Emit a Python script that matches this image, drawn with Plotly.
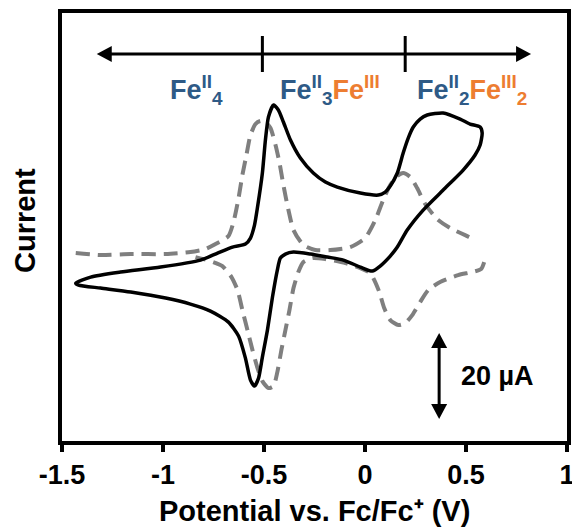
import plotly.graph_objects as go

# ---- data (potential in V vs Fc/Fc+, current in µA) ----
solid_potential = [-1.432, -1.358, -1.210, -1.012, -0.814, -0.730, -0.656, -0.592, -0.567, -0.547,
                   -0.532, -0.508, -0.493, -0.478, -0.453, -0.429, -0.404, -0.369, -0.320, -0.256,
                   -0.196, -0.137, -0.023, 0.066, 0.100, 0.125, 0.160, 0.189, 0.214, 0.239,
                   0.273, 0.308, 0.387, 0.471, 0.520, 0.570, 0.580, 0.570, 0.545, 0.486,
                   0.387, 0.288, 0.209, 0.160, 0.125, 0.075, 0.036, -0.023, -0.107, -0.186,
                   -0.270, -0.354, -0.394, -0.419, -0.434, -0.458, -0.483, -0.508, -0.527, -0.547,
                   -0.567, -0.592, -0.626, -0.676, -0.765, -0.864, -0.987, -1.160, -1.309, -1.418,
                   -1.432]
solid_current = [-4.19, -2.79, -1.63, -0.47, 1.16, 2.79, 4.19, 4.88, 6.28, 9.30,
                 13.49, 21.40, 29.07, 34.42, 37.21, 36.05, 33.26, 29.07, 24.88, 21.40,
                 19.30, 18.14, 16.74, 16.28, 16.98, 18.37, 21.40, 26.05, 29.53, 32.09,
                 33.95, 34.88, 35.35, 33.95, 32.79, 32.09, 30.70, 27.91, 25.58, 22.09,
                 17.44, 12.79, 8.14, 4.19, 2.09, -0.23, -1.40, -0.47, 1.16, 1.86,
                 2.56, 3.02, 2.56, 1.63, -1.16, -7.44, -15.12, -21.40, -26.28, -28.14,
                 -26.74, -21.63, -16.51, -13.26, -10.70, -9.07, -7.67, -6.28, -5.35, -4.65,
                 -4.19]

dashed_fwd_potential = [-1.432, -1.309, -1.160, -0.987, -0.864, -0.790, -0.740, -0.676, -0.651, -0.626,
                        -0.607, -0.587, -0.567, -0.542, -0.518, -0.493, -0.468, -0.443, -0.424, -0.404,
                        -0.379, -0.354, -0.305, -0.246, -0.172, -0.073, 0.001, 0.051, 0.090, 0.125,
                        0.160, 0.189, 0.224, 0.258, 0.298, 0.357, 0.422, 0.506, 0.551]
dashed_fwd_current = [2.79, 2.33, 2.56, 2.56, 3.02, 3.72, 4.88, 6.74, 10.00, 15.58,
                      20.93, 25.58, 30.23, 32.79, 33.49, 33.26, 31.86, 27.91, 23.95, 18.60,
                      12.79, 8.14, 4.65, 3.49, 3.49, 4.19, 6.28, 10.47, 15.12, 18.60,
                      20.70, 21.40, 20.47, 17.91, 14.19, 10.70, 8.60, 6.74, 5.81]

dashed_rev_potential = [0.590, 0.575, 0.531, 0.461, 0.372, 0.313, 0.273, 0.234, 0.199, 0.165,
                        0.125, 0.095, 0.071, 0.046, 0.026, -0.023, -0.097, -0.196, -0.260, -0.305,
                        -0.330, -0.354, -0.374, -0.394, -0.414, -0.434, -0.453, -0.478, -0.508, -0.532,
                        -0.557, -0.582, -0.607, -0.631, -0.661, -0.706, -0.765, -0.839]
dashed_rev_current = [0.70, -0.93, -1.63, -2.33, -3.95, -5.81, -8.60, -11.63, -13.49, -13.95,
                      -12.79, -10.00, -6.28, -3.49, -1.86, -0.70, 0.47, 1.40, 1.63, 0.70,
                      -1.63, -5.35, -10.47, -15.12, -19.77, -24.88, -28.14, -28.60, -26.98, -23.95,
                      -19.77, -15.12, -10.47, -5.81, -2.79, -0.23, 0.93, 1.86]

x_tick_values = [-1.5, -1, -0.5, 0, 0.5, 1]
x_tick_labels = ["-1.5", "-1", "-0.5", "0", "0.5", "1"]

region_boundaries = [-0.508, 0.199]   # vertical marks on the top arrow (V)
scale_bar_uA = 20

# ---- layout constants ----
W, H = 572, 527
ML, MR, MT, MB = 62, 5, 13, 86
X_RANGE = [-1.5, 1.0]
Y_RANGE = [-40.9, 58.6]
px_x = (X_RANGE[1] - X_RANGE[0]) / (W - ML - MR)
px_y = (Y_RANGE[1] - Y_RANGE[0]) / (H - MT - MB)

FONT = "Liberation Sans, Arial, sans-serif"
BLUE = "#2E5A86"
ORANGE = "#ED7D31"
GRAY = "#7F7F7F"

fig = go.Figure()
fig.add_trace(go.Scatter(x=dashed_fwd_potential + [None] + dashed_rev_potential,
                         y=dashed_fwd_current + [None] + dashed_rev_current,
                         mode="lines", line=dict(color=GRAY, width=4, dash="14px,8px", shape="spline", smoothing=0.6),
                         connectgaps=False, showlegend=False, hoverinfo="skip"))
fig.add_trace(go.Scatter(x=solid_potential, y=solid_current, mode="lines",
                         line=dict(color="black", width=3.5, shape="spline", smoothing=0.6),
                         showlegend=False, hoverinfo="skip"))

shapes = []
# top double arrow
ya = 49.07
xl, xr = -1.328, 0.822
head_len, head_half = 15, 8
shapes.append(dict(type="line", x0=xl + head_len * px_x * 0.8, x1=xr - head_len * px_x * 0.8, y0=ya, y1=ya,
                   line=dict(color="black", width=3)))
shapes.append(dict(type="path", fillcolor="black", line=dict(width=0),
                   path=f"M{xl},{ya} L{xl + head_len * px_x},{ya + head_half * px_y} L{xl + head_len * px_x},{ya - head_half * px_y} Z"))
shapes.append(dict(type="path", fillcolor="black", line=dict(width=0),
                   path=f"M{xr},{ya} L{xr - head_len * px_x},{ya + head_half * px_y} L{xr - head_len * px_x},{ya - head_half * px_y} Z"))
for b in region_boundaries:
    shapes.append(dict(type="line", x0=b, x1=b, y0=ya - 18 * px_y, y1=ya + 18 * px_y, line=dict(color="black", width=3)))

# scale bar
xs = 0.367
ytop = -15.8
ybot = ytop - scale_bar_uA
shapes.append(dict(type="line", x0=xs, x1=xs, y0=ytop - 12 * px_y, y1=ybot + 12 * px_y, line=dict(color="black", width=3)))
shapes.append(dict(type="path", fillcolor="black", line=dict(width=0),
                   path=f"M{xs},{ytop} L{xs - 8 * px_x},{ytop - 15 * px_y} L{xs + 8 * px_x},{ytop - 15 * px_y} Z"))
shapes.append(dict(type="path", fillcolor="black", line=dict(width=0),
                   path=f"M{xs},{ybot} L{xs - 8 * px_x},{ybot + 15 * px_y} L{xs + 8 * px_x},{ybot + 15 * px_y} Z"))

def o(t):
    return f"<span style='color:{ORANGE}'>{t}</span>"

label_font = dict(family=FONT, size=27, color=BLUE, weight="bold")
annotations = [
    dict(x=-0.834, y=40.7, text="Fe<sup>II</sup><sub>4</sub>", showarrow=False, font=label_font, xanchor="center", yanchor="middle"),
    dict(x=-0.171, y=40.7, text="Fe<sup>II</sup><sub>3</sub>" + o("Fe<sup>III</sup>"), showarrow=False, font=label_font, xanchor="center", yanchor="middle"),
    dict(x=0.531, y=40.7, text="Fe<sup>II</sup><sub>2</sub>" + o("Fe<sup>III</sup><sub>2</sub>"), showarrow=False, font=label_font, xanchor="center", yanchor="middle"),
    dict(x=0.463, y=ytop - scale_bar_uA / 2, text="20 µA", showarrow=False, xanchor="left", yanchor="middle",
         font=dict(family=FONT, size=27, color="black", weight="bold")),
    dict(xref="paper", yref="paper", x=0.5, y=0, yshift=-70, text="Potential vs. Fc/Fc⁺ (V)", showarrow=False,
         xanchor="center", yanchor="middle", font=dict(family=FONT, size=29, color="black", weight="bold")),
    dict(xref="paper", yref="paper", x=0, y=0.5, xshift=-37, yshift=6, text="Current", textangle=-90, showarrow=False,
         xanchor="center", yanchor="middle", font=dict(family=FONT, size=29, color="black", weight="bold")),
]

fig.update_layout(
    width=W, height=H, margin=dict(l=ML, r=MR, t=MT, b=MB, autoexpand=False),
    paper_bgcolor="white", plot_bgcolor="white",
    shapes=shapes, annotations=annotations,
    xaxis=dict(range=X_RANGE, tickvals=x_tick_values, ticktext=x_tick_labels,
               showline=True, mirror=True, linewidth=4, linecolor="black",
               ticks="outside", ticklen=7, tickwidth=4, tickcolor="black",
               showgrid=False, zeroline=False, automargin=False, ticklabeloverflow="allow",
               tickfont=dict(family=FONT, size=27, color="black", weight="bold")),
    yaxis=dict(range=Y_RANGE, showline=True, mirror=True, linewidth=4, linecolor="black",
               showticklabels=False, ticks="", showgrid=False, zeroline=False, automargin=False),
)

fig.write_html("out.html")
